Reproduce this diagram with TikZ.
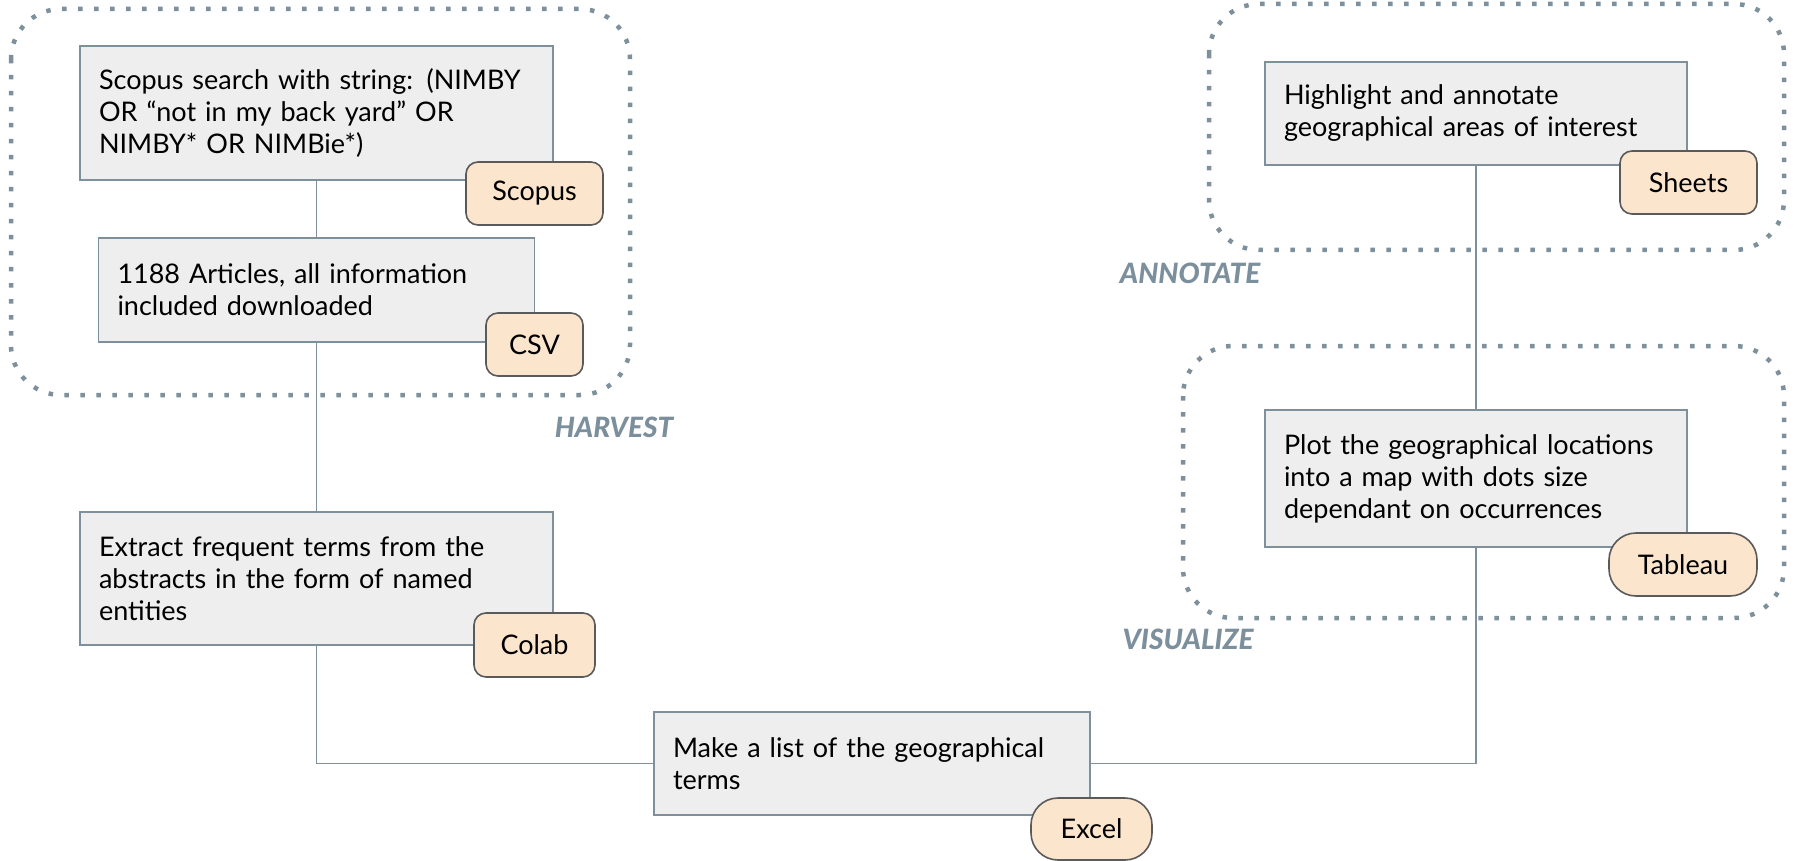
\documentclass[tikz,border=0pt]{standalone}
\usepackage{fontspec}
\setmainfont{Lato}
\newfontfamily\phasefont{Lato Black Italic}
\definecolor{edgec}{HTML}{7D909B}
\definecolor{boxfill}{HTML}{EEEEEE}
\definecolor{tagfill}{HTML}{FCE5CD}
\definecolor{tagedge}{HTML}{5A5A5A}
\definecolor{phasec}{HTML}{7C8F9C}
\tikzset{
  stepbox/.style={rectangle, draw=edgec, fill=boxfill, line width=1.6pt,
    align=left, inner xsep=19pt, inner ysep=0pt,
    font=\fontsize{27}{32}\selectfont},
  tool/.style={rectangle, rounded corners=12pt, draw=tagedge, fill=tagfill,
    line width=1.6pt, inner sep=0pt, font=\fontsize{27}{30}\selectfont},
  pill/.style={tool, rounded corners=27pt},
  grp/.style={draw=edgec, line width=4.5pt, rounded corners=50pt,
    dash pattern=on 4.5pt off 11.5pt},
  phase/.style={text=phasec, font=\fontsize{28}{30}\phasefont},
  link/.style={draw=edgec, line width=1.6pt}
}
\begin{document}
\begin{tikzpicture}[x=1pt, y=-1pt]
\useasboundingbox[fill=white] (0,0) rectangle (1797,861);

% phase groups
\draw[grp] (11,9) rectangle (630,395);
\draw[grp] (1209,4) rectangle (1784,250);
\draw[grp] (1183,346) rectangle (1784,618);

\node[phase] (harvest) at (614,427) {HARVEST};
\node[phase] (annotate) at (1190,273) {ANNOTATE};
\node[phase] (visualize) at (1188,639) {VISUALIZE};

% process steps
\node[stepbox, text width=435pt, minimum height=134pt] (scopus) at (316.5,113)
  {Scopus search with string: (NIMBY\\OR “not in my back yard” OR\\NIMBY* OR NIMBie*)};
\node[stepbox, text width=398pt, minimum height=104pt] (articles) at (316.5,290)
  {1188 Articles, all information\\included downloaded};
\node[stepbox, text width=435pt, minimum height=133pt] (extract) at (316.5,578.5)
  {Extract frequent terms from the\\abstracts in the form of named\\entities};
\node[stepbox, text width=398pt, minimum height=103pt] (list) at (872,763.5)
  {Make a list of the geographical\\terms};
\node[stepbox, text width=384pt, minimum height=137pt] (plot) at (1476,478.5)
  {Plot the geographical locations\\into a map with dots size\\dependant on occurrences};
\node[stepbox, text width=384pt, minimum height=103pt] (highlight) at (1476,113.5)
  {Highlight and annotate\\geographical areas of interest};

% connectors
\draw[link] (scopus.south) -- (scopus.south |- articles.north);
\draw[link] (articles.south) -- (articles.south |- extract.north);
\draw[link] (extract.south) |- (list.west);
\draw[link] (list.east) -| (plot.south);
\draw[link] (plot.north) -- (highlight.south);

% tools
\node[tool, minimum width=137pt, minimum height=63pt] (tscopus) at (534.5,193.5) {Scopus};
\node[tool, minimum width=97pt, minimum height=63pt] (tcsv) at (534.5,344.5) {CSV};
\node[tool, minimum width=121pt, minimum height=64pt] (tcolab) at (534.5,645) {Colab};
\node[pill, minimum width=121pt, minimum height=62pt] (texcel) at (1091.5,829) {Excel};
\node[pill, minimum width=148pt, minimum height=63pt] (ttableau) at (1683,564.5) {Tableau};
\node[tool, minimum width=137pt, minimum height=63pt] (tsheets) at (1688.5,182.5) {Sheets};
\end{tikzpicture}
\end{document}
